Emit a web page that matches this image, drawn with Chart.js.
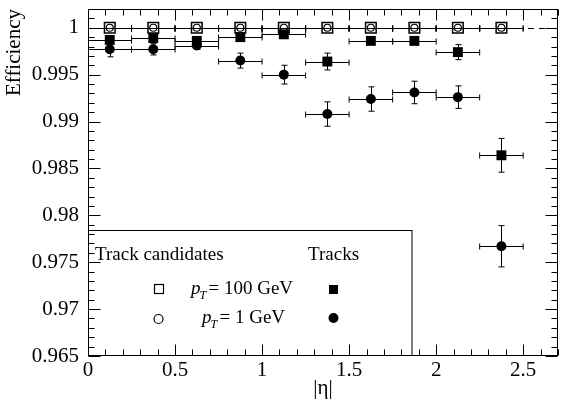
<!DOCTYPE html>
<html>
<head>
<meta charset="utf-8">
<script src="https://cdn.jsdelivr.net/npm/chart.js@4"></script>
<style>
  html, body { margin: 0; padding: 0; background: #fff; }
</style>
</head>
<body>
<canvas id="graph" width="567" height="403"></canvas>
<script>
// |eta| bin centres, bin half width
var etaCenters = [0.125, 0.375, 0.625, 0.875, 1.125, 1.375, 1.625, 1.875, 2.125, 2.375]
var etaHalfWidth = 0.125

// track candidates (open markers)
var candEff100 = [1, 1, 1, 1, 1, 1, 1, 1, 1, 1]
var candEff1 = [1, 1, 1, 1, 1, 1, 1, 1, 1, 1]

// tracks (filled markers)
var trackEff100 = [0.9987, 0.9989, 0.9986, 0.9990, 0.9993, 0.9964, 0.9986, 0.9986, 0.9974, 0.9864]
var trackErr100 = [0.0003, 0.0003, 0.0003, 0.0003, 0.0003, 0.0009, 0.0003, 0.0003, 0.0008, 0.0018]
var trackEff1 = [0.9977, 0.9977, 0.9981, 0.9965, 0.9950, 0.9908, 0.9924, 0.9931, 0.9926, 0.9767]
var trackErr1 = [0.0008, 0.0006, 0.0004, 0.0008, 0.0010, 0.0013, 0.0013, 0.0012, 0.0012, 0.0022]

var yTicks = [0.965, 0.97, 0.975, 0.98, 0.985, 0.99, 0.995, 1]
var yTickLabels = ['0.965', '0.97', '0.975', '0.98', '0.985', '0.99', '0.995', '1']
var xTicks = [0, 0.5, 1, 1.5, 2, 2.5]
var xTickLabels = ['0', '0.5', '1', '1.5', '2', '2.5']

var refLevel = 1
var serif = "'Liberation Serif', 'Times New Roman', serif"

function points(vals, errs) {
    return etaCenters.map(function (x, i) {
        return { x: x, y: vals[i], xErr: etaHalfWidth, yErr: errs ? errs[i] : 0 }
    })
}

// error bars + dashed reference line, under the markers
var errorBars = {
    id: 'errorBars',
    beforeDatasetsDraw: function (chart) {
        var ctx = chart.ctx, xs = chart.scales.x, ys = chart.scales.y, a = chart.chartArea
        ctx.save()
        ctx.beginPath()
        ctx.rect(a.left, a.top, a.right - a.left, a.bottom - a.top)
        ctx.clip()
        ctx.strokeStyle = '#000'
        ctx.lineWidth = 1
        var yr = Math.round(ys.getPixelForValue(refLevel)) + 0.5
        ctx.setLineDash([6, 5])
        ctx.beginPath()
        ctx.moveTo(a.left, yr)
        ctx.lineTo(a.right, yr)
        ctx.stroke()
        ctx.setLineDash([])
        chart.data.datasets.forEach(function (ds) {
            ds.data.forEach(function (p) {
                var px = Math.round(xs.getPixelForValue(p.x)) + 0.5
                var py = Math.round(ys.getPixelForValue(p.y)) + 0.5
                var x0 = xs.getPixelForValue(p.x - p.xErr)
                var x1 = xs.getPixelForValue(p.x + p.xErr)
                ctx.beginPath()
                ctx.moveTo(x0, py); ctx.lineTo(x1, py)
                ctx.moveTo(x0, py - 3); ctx.lineTo(x0, py + 3)
                ctx.moveTo(x1, py - 3); ctx.lineTo(x1, py + 3)
                if (p.yErr > 0) {
                    var y0 = ys.getPixelForValue(p.y - p.yErr)
                    var y1 = ys.getPixelForValue(p.y + p.yErr)
                    ctx.moveTo(px, y0); ctx.lineTo(px, y1)
                    ctx.moveTo(px - 3, y0); ctx.lineTo(px + 3, y0)
                    ctx.moveTo(px - 3, y1); ctx.lineTo(px + 3, y1)
                }
                ctx.stroke()
            })
        })
        ctx.restore()
    }
}

// frame, inward ticks on all four sides, legend box
var frameAndLegend = {
    id: 'frameAndLegend',
    afterDraw: function (chart) {
        var ctx = chart.ctx, xs = chart.scales.x, ys = chart.scales.y, a = chart.chartArea
        ctx.save()
        ctx.strokeStyle = '#000'
        ctx.lineWidth = 1
        var L = Math.round(a.left) + 0.5, R = Math.round(a.right) - 0.5
        var T = Math.round(a.top) + 0.5, B = Math.round(a.bottom) - 0.5
        ctx.strokeRect(L, T, R - L, B - T)

        ctx.beginPath()
        for (var k = 0; k <= 37; k++) {
            var v = 0.965 + k * 0.001
            if (v > ys.max) break
            var yy = Math.round(ys.getPixelForValue(v)) + 0.5
            var len = (k % 5 === 0) ? 12 : 6
            ctx.moveTo(L, yy); ctx.lineTo(L + len, yy)
            ctx.moveTo(R, yy); ctx.lineTo(R - len, yy)
        }
        for (var j = 0; j <= 27; j++) {
            var xv = j * 0.1
            if (xv > xs.max + 1e-9) break
            var xx = Math.round(xs.getPixelForValue(xv)) + 0.5
            var xl = (j % 5 === 0) ? 11 : 6
            ctx.moveTo(xx, B); ctx.lineTo(xx, B - xl)
            ctx.moveTo(xx, T); ctx.lineTo(xx, T + xl)
        }
        ctx.stroke()

        // legend box
        ctx.strokeRect(L, 230.5, 412 - L, B - 230.5)
        ctx.fillStyle = '#000'
        ctx.textBaseline = 'alphabetic'
        ctx.font = '19px ' + serif
        ctx.fillText('Track candidates', 95, 260)
        ctx.fillText('Tracks', 308, 260)

        function ptLabel(x, y, rest) {
            ctx.font = 'italic 19px ' + serif
            ctx.fillText('p', x, y)
            var w = ctx.measureText('p').width
            ctx.font = 'italic 12px ' + serif
            ctx.fillText('T', x + w - 1, y + 5)
            ctx.font = '19px ' + serif
            ctx.fillText(rest, x + w + 8, y)
        }
        ptLabel(191, 294, '= 100 GeV')
        ptLabel(202, 323, '= 1 GeV')

        ctx.lineWidth = 1.2
        ctx.strokeRect(154.5, 284.5, 9, 9)
        ctx.beginPath()
        ctx.arc(158.5, 319, 4.5, 0, Math.PI * 2)
        ctx.stroke()
        ctx.fillRect(329, 285, 9, 9)
        ctx.beginPath()
        ctx.arc(333.5, 318, 5, 0, Math.PI * 2)
        ctx.fill()
        ctx.restore()
    }
}

function noPad(s) {
    s.paddingTop = 0
    s.paddingBottom = 0
    s.paddingLeft = 0
    s.paddingRight = 0
}

var ctx = document.getElementById('graph').getContext('2d')

var myChart = new Chart(ctx, {
    type: 'scatter',
    data: {
        datasets: [
            {
                label: 'Tracks pT = 1 GeV',
                data: points(trackEff1, trackErr1),
                pointStyle: 'circle', pointRadius: 5,
                backgroundColor: '#000', borderColor: '#000', borderWidth: 0
            },
            {
                label: 'Tracks pT = 100 GeV',
                data: points(trackEff100, trackErr100),
                pointStyle: 'rect', pointRadius: 7,
                backgroundColor: '#000', borderColor: '#000', borderWidth: 0
            },
            {
                label: 'Track candidates pT = 100 GeV',
                data: points(candEff100),
                pointStyle: 'rect', pointRadius: 7.5,
                backgroundColor: 'rgba(0,0,0,0)', borderColor: '#000', borderWidth: 1.5
            },
            {
                label: 'Track candidates pT = 1 GeV',
                data: points(candEff1),
                pointStyle: 'circle', pointRadius: 3.5,
                backgroundColor: 'rgba(0,0,0,0)', borderColor: '#000', borderWidth: 1.2
            }
        ]
    },
    options: {
        responsive: false,
        animation: false,
        devicePixelRatio: 1,
        events: [],
        layout: { padding: { left: 0, right: 9, top: 7, bottom: 0 } },
        plugins: {
            legend: { display: false },
            tooltip: { enabled: false }
        },
        scales: {
            x: {
                type: 'linear',
                min: 0, max: 2.7,
                afterBuildTicks: function (s) { s.ticks = xTicks.map(function (v) { return { value: v } }) },
                afterFit: function (s) { s.height = 47; noPad(s) },
                grid: { display: false, drawTicks: false },
                border: { display: false },
                ticks: {
                    autoSkip: false, maxRotation: 0, padding: 2, color: '#000',
                    font: { family: serif, size: 21 },
                    callback: function (v, i) { return xTickLabels[i] }
                },
                title: {
                    display: true, text: '|η|', align: 'center', color: '#000',
                    font: { family: serif, size: 21 }, padding: { top: 0, bottom: 2 }
                }
            },
            y: {
                type: 'linear',
                min: 0.965, max: 1.002,
                afterBuildTicks: function (s) { s.ticks = yTicks.map(function (v) { return { value: v } }) },
                afterFit: function (s) { s.width = 88; noPad(s) },
                grid: { display: false, drawTicks: false },
                border: { display: false },
                ticks: {
                    autoSkip: false, padding: 9, color: '#000',
                    font: { family: serif, size: 21 },
                    callback: function (v, i) { return yTickLabels[i] }
                },
                title: {
                    display: true, text: 'Efficiency', align: 'end', color: '#000',
                    font: { family: serif, size: 21 }, padding: { top: 2, bottom: 0 }
                }
            }
        }
    },
    plugins: [errorBars, frameAndLegend]
})
</script>
</body>
</html>
